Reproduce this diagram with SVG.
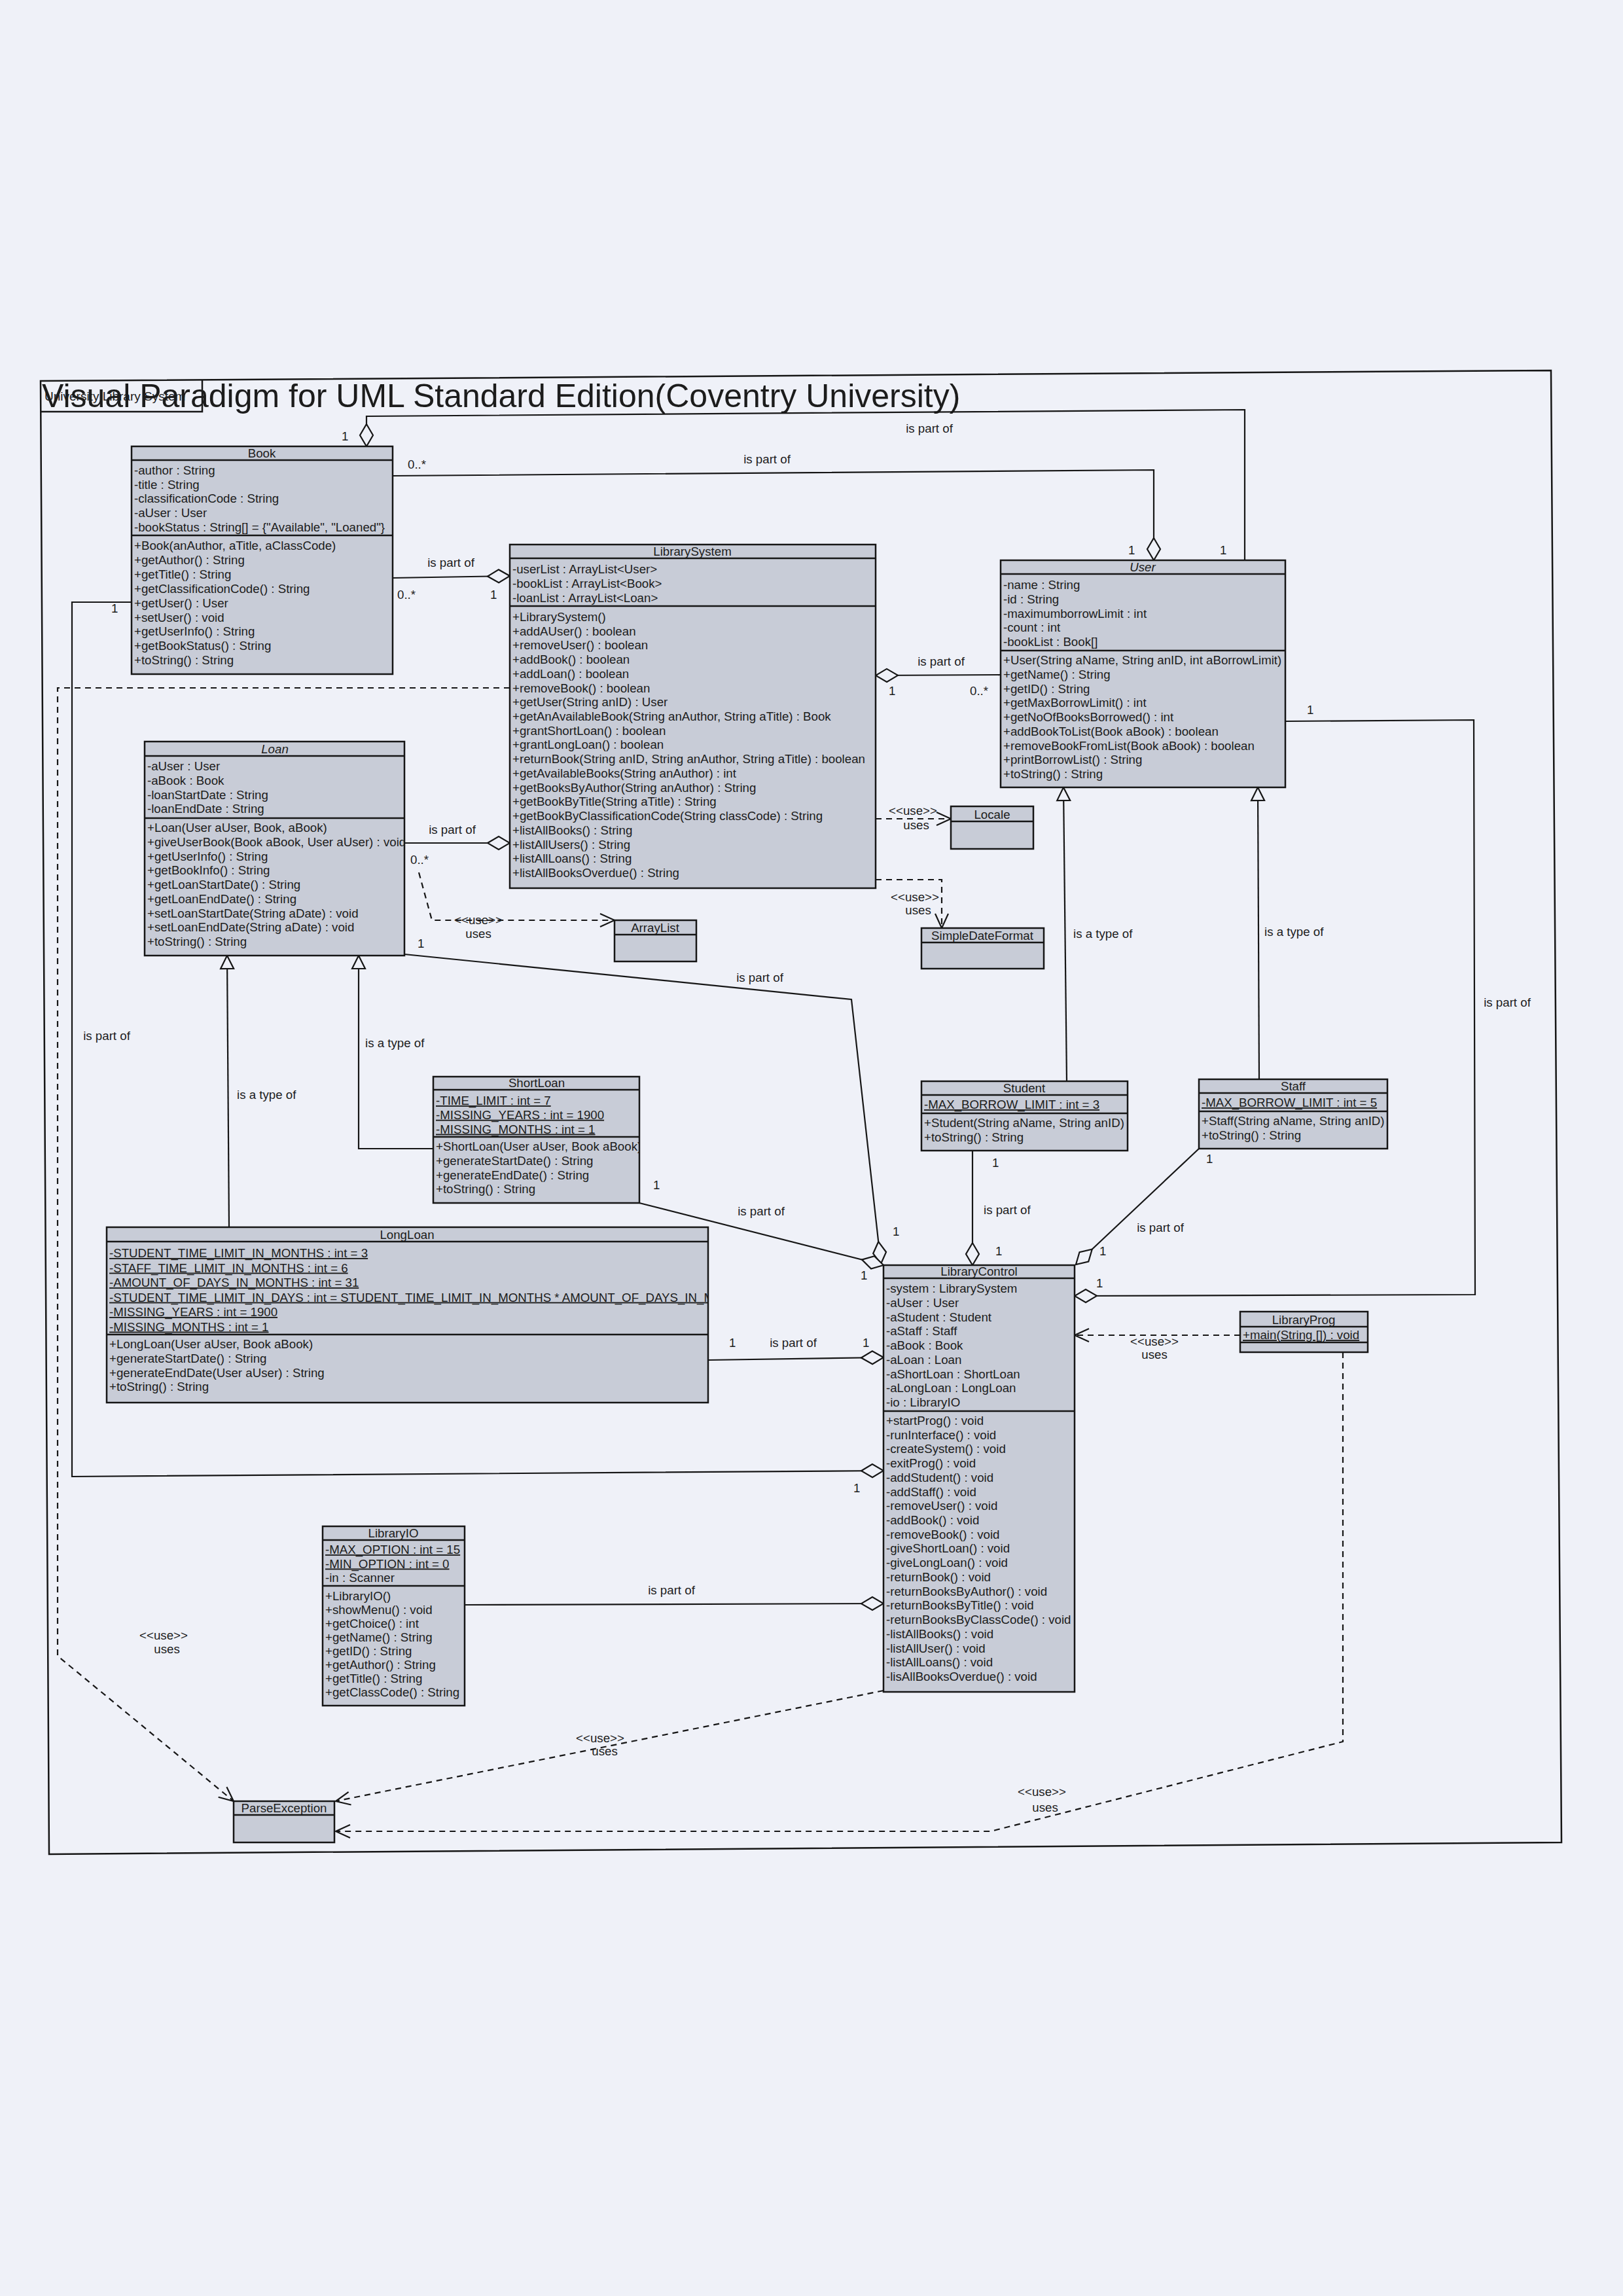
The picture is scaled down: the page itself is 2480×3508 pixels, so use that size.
<svg xmlns="http://www.w3.org/2000/svg" width="2480" height="3508" viewBox="0 0 2480 3508">
<defs>
<style>
.bg{fill:#eff1f8}
.box{fill:#c8ccd7;stroke:#161616;stroke-width:2.5}
.sep{stroke:#161616;stroke-width:2.5}
text{font-family:"Liberation Sans",Arial,sans-serif;font-size:18.7px;fill:#1c1c1c}
.c{text-anchor:middle}
.u{text-decoration:underline}
.i{font-style:italic}
.ln{fill:none;stroke:#161616;stroke-width:2.2}
.dep{fill:none;stroke:#161616;stroke-width:2.2;stroke-dasharray:9 7}
.frame{fill:none;stroke:#161616;stroke-width:2.5}
</style>
<marker id="dia" markerUnits="userSpaceOnUse" markerWidth="38" markerHeight="24" viewBox="-2 -2 38 24" refX="34" refY="10" orient="auto"><path d="M0,10 L17,0 L34,10 L17,20 Z" fill="#eff1f8" stroke="#161616" stroke-width="2.2"/></marker>
<marker id="tri" markerUnits="userSpaceOnUse" markerWidth="24" markerHeight="24" viewBox="-2 -2 24 24" refX="20" refY="10" orient="auto"><path d="M0,0 L20,10 L0,20 Z" fill="#eff1f8" stroke="#161616" stroke-width="2.2"/></marker>
<marker id="arr" markerUnits="userSpaceOnUse" markerWidth="26" markerHeight="24" viewBox="-2 -2 26 24" refX="22" refY="10" orient="auto"><path d="M0,0 L22,10 L0,20" fill="none" stroke="#161616" stroke-width="2.2"/></marker>
<clipPath id="clipLoan"><rect x="221" y="1133" width="397" height="327"/></clipPath>
<clipPath id="clipLong"><rect x="163" y="1875" width="919" height="268"/></clipPath>
<clipPath id="clipShort"><rect x="662" y="1645" width="315" height="193"/></clipPath>
</defs>
<rect class="bg" x="0" y="0" width="2480" height="3508"/>

<g id="frame">
<polygon class="frame" points="62,582 2370,566 2386,2815 75,2833"/>
<polyline class="frame" points="62,629 309,629 309,581"/>
<text x="68" y="612" style="font-size:19px">University Library System</text>
<text x="64" y="622" style="font-size:50px">Visual Paradigm for UML Standard Edition(Coventry University)</text>
</g>

<g id="connectors">
<path class="ln" marker-end="url(#dia)" d="M1902,856 V626 L560,636 V682"/>
<path class="ln" marker-end="url(#dia)" d="M600,727 L1763,718 V856"/>
<path class="ln" marker-end="url(#dia)" d="M600,883 L779,880"/>
<path class="ln" marker-end="url(#dia)" d="M1529,1031 L1338,1032"/>
<path class="ln" marker-end="url(#dia)" d="M618,1288 L779,1288"/>
<path class="ln" marker-end="url(#dia)" d="M618,1458 L1301,1527 L1346,1931"/>
<path class="ln" marker-end="url(#dia)" d="M977,1838 L1350,1933"/>
<path class="ln" marker-end="url(#dia)" d="M1082,2078 L1350,2074"/>
<path class="ln" marker-end="url(#dia)" d="M1486,1758 V1933"/>
<path class="ln" marker-end="url(#dia)" d="M1832,1755 L1644,1932"/>
<path class="ln" marker-end="url(#dia)" d="M1964,1102 L2252,1100 L2254,1978 L1642,1980"/>
<path class="ln" marker-end="url(#dia)" d="M201,920 H110 V2256 L1350,2247"/>
<path class="ln" marker-end="url(#dia)" d="M710,2452 L1350,2450"/>
<path class="ln" marker-end="url(#tri)" d="M1630,1652 L1625,1203"/>
<path class="ln" marker-end="url(#tri)" d="M1924,1649 L1922,1203"/>
<path class="ln" marker-end="url(#tri)" d="M662,1755 H548 V1460"/>
<path class="ln" marker-end="url(#tri)" d="M350,1875 L347,1460"/>
<path class="dep" marker-end="url(#arr)" d="M1338,1251 H1453"/>
<path class="dep" marker-end="url(#arr)" d="M1338,1344 H1439 V1418"/>
<path class="dep" marker-end="url(#arr)" d="M640,1333 L660,1406 H939"/>
<path class="dep" marker-end="url(#arr)" d="M779,1051 H88 V2530 L357,2752"/>
<path class="dep" marker-end="url(#arr)" d="M1350,2583 L513,2752"/>
<path class="dep" marker-end="url(#arr)" d="M1895,2040 H1642"/>
<path class="dep" marker-end="url(#arr)" d="M2052,2066 V2661 L1514,2798 H513"/>
<text class="c" x="1420" y="661">is part of</text>
<text x="522" y="673">1</text>
<text x="1864" y="847">1</text>
<text x="623" y="716">0..*</text>
<text class="c" x="1172" y="708">is part of</text>
<text x="1724" y="847">1</text>
<text class="c" x="689" y="866">is part of</text>
<text x="607" y="915">0..*</text>
<text x="749" y="915">1</text>
<text class="c" x="1438" y="1017">is part of</text>
<text x="1358" y="1062">1</text>
<text x="1482" y="1062">0..*</text>
<text class="c" x="691" y="1274">is part of</text>
<text x="627" y="1320">0..*</text>
<text x="638" y="1448">1</text>
<text class="c" x="1161" y="1500">is part of</text>
<text x="1364" y="1888">1</text>
<text x="998" y="1817">1</text>
<text class="c" x="1163" y="1857">is part of</text>
<text x="1315" y="1955">1</text>
<text x="1114" y="2058">1</text>
<text class="c" x="1212" y="2058">is part of</text>
<text x="1318" y="2058">1</text>
<text x="1516" y="1783">1</text>
<text x="1503" y="1855">is part of</text>
<text x="1521" y="1918">1</text>
<text x="1843" y="1777">1</text>
<text class="c" x="1773" y="1882">is part of</text>
<text x="1680" y="1918">1</text>
<text x="1997" y="1091">1</text>
<text class="c" x="2303" y="1538">is part of</text>
<text x="1675" y="1967">1</text>
<text x="170" y="936">1</text>
<text class="c" x="163" y="1589">is part of</text>
<text x="1304" y="2280">1</text>
<text class="c" x="1026" y="2436">is part of</text>
<text x="1640" y="1433">is a type of</text>
<text x="1932" y="1430">is a type of</text>
<text x="558" y="1600">is a type of</text>
<text x="362" y="1679">is a type of</text>
<text class="c" x="1395" y="1245">&lt;&lt;use&gt;&gt;</text>
<text class="c" x="1400" y="1267">uses</text>
<text class="c" x="1398" y="1377">&lt;&lt;use&gt;&gt;</text>
<text class="c" x="1403" y="1397">uses</text>
<text class="c" x="731" y="1412">&lt;&lt;use&gt;&gt;</text>
<text class="c" x="731" y="1433">uses</text>
<text class="c" x="250" y="2505">&lt;&lt;use&gt;&gt;</text>
<text class="c" x="255" y="2526">uses</text>
<text class="c" x="917" y="2662">&lt;&lt;use&gt;&gt;</text>
<text class="c" x="924" y="2682">uses</text>
<text class="c" x="1764" y="2056">&lt;&lt;use&gt;&gt;</text>
<text class="c" x="1764" y="2076">uses</text>
<text class="c" x="1592" y="2744">&lt;&lt;use&gt;&gt;</text>
<text class="c" x="1597" y="2768">uses</text>
</g>

<g id="Book">
<rect class="box" x="201" y="682" width="399" height="348"/>
<line class="sep" x1="201" y1="703" x2="600" y2="703"/>
<line class="sep" x1="201" y1="818" x2="600" y2="818"/>
<text class="c" x="400" y="699">Book</text>
<text x="205"><tspan x="205" y="725">-author : String</tspan><tspan x="205" dy="21.7">-title : String</tspan><tspan x="205" dy="21.7">-classificationCode : String</tspan><tspan x="205" dy="21.7">-aUser : User</tspan><tspan x="205" dy="21.7">-bookStatus : String[] = {"Available", "Loaned"}</tspan></text>
<text x="205"><tspan x="205" y="840">+Book(anAuthor, aTitle, aClassCode)</tspan><tspan x="205" dy="21.9">+getAuthor() : String</tspan><tspan x="205" dy="21.9">+getTitle() : String</tspan><tspan x="205" dy="21.9">+getClassificationCode() : String</tspan><tspan x="205" dy="21.9">+getUser() : User</tspan><tspan x="205" dy="21.9">+setUser() : void</tspan><tspan x="205" dy="21.9">+getUserInfo() : String</tspan><tspan x="205" dy="21.9">+getBookStatus() : String</tspan><tspan x="205" dy="21.9">+toString() : String</tspan></text>
</g>

<g id="LibrarySystem">
<rect class="box" x="779" y="832" width="559" height="525"/>
<line class="sep" x1="779" y1="853" x2="1338" y2="853"/>
<line class="sep" x1="779" y1="926" x2="1338" y2="926"/>
<text class="c" x="1058" y="849">LibrarySystem</text>
<text x="783"><tspan x="783" y="876">-userList : ArrayList&lt;User&gt;</tspan><tspan x="783" dy="21.75">-bookList : ArrayList&lt;Book&gt;</tspan><tspan x="783" dy="21.75">-loanList : ArrayList&lt;Loan&gt;</tspan></text>
<text x="783"><tspan x="783" y="949">+LibrarySystem()</tspan><tspan x="783" dy="21.72">+addAUser() : boolean</tspan><tspan x="783" dy="21.72">+removeUser() : boolean</tspan><tspan x="783" dy="21.72">+addBook() : boolean</tspan><tspan x="783" dy="21.72">+addLoan() : boolean</tspan><tspan x="783" dy="21.72">+removeBook() : boolean</tspan><tspan x="783" dy="21.72">+getUser(String anID) : User</tspan><tspan x="783" dy="21.72">+getAnAvailableBook(String anAuthor, String aTitle) : Book</tspan><tspan x="783" dy="21.72">+grantShortLoan() : boolean</tspan><tspan x="783" dy="21.72">+grantLongLoan() : boolean</tspan><tspan x="783" dy="21.72">+returnBook(String anID, String anAuthor, String aTitle) : boolean</tspan><tspan x="783" dy="21.72">+getAvailableBooks(String anAuthor) : int</tspan><tspan x="783" dy="21.72">+getBooksByAuthor(String anAuthor) : String</tspan><tspan x="783" dy="21.72">+getBookByTitle(String aTitle) : String</tspan><tspan x="783" dy="21.72">+getBookByClassificationCode(String classCode) : String</tspan><tspan x="783" dy="21.72">+listAllBooks() : String</tspan><tspan x="783" dy="21.72">+listAllUsers() : String</tspan><tspan x="783" dy="21.72">+listAllLoans() : String</tspan><tspan x="783" dy="21.72">+listAllBooksOverdue() : String</tspan></text>
</g>

<g id="User">
<rect class="box" x="1529" y="856" width="435" height="347"/>
<line class="sep" x1="1529" y1="877" x2="1964" y2="877"/>
<line class="sep" x1="1529" y1="994" x2="1964" y2="994"/>
<text class="c i" x="1746" y="873">User</text>
<text x="1533"><tspan x="1533" y="900">-name : String</tspan><tspan x="1533" dy="21.75">-id : String</tspan><tspan x="1533" dy="21.75">-maximumborrowLimit : int</tspan><tspan x="1533" dy="21.75">-count : int</tspan><tspan x="1533" dy="21.75">-bookList : Book[]</tspan></text>
<text x="1533"><tspan x="1533" y="1015">+User(String aName, String anID, int aBorrowLimit)</tspan><tspan x="1533" dy="21.75">+getName() : String</tspan><tspan x="1533" dy="21.75">+getID() : String</tspan><tspan x="1533" dy="21.75">+getMaxBorrowLimit() : int</tspan><tspan x="1533" dy="21.75">+getNoOfBooksBorrowed() : int</tspan><tspan x="1533" dy="21.75">+addBookToList(Book aBook) : boolean</tspan><tspan x="1533" dy="21.75">+removeBookFromList(Book aBook) : boolean</tspan><tspan x="1533" dy="21.75">+printBorrowList() : String</tspan><tspan x="1533" dy="21.75">+toString() : String</tspan></text>
</g>

<g id="Loan">
<rect class="box" x="221" y="1133" width="397" height="327"/>
<line class="sep" x1="221" y1="1155" x2="618" y2="1155"/>
<line class="sep" x1="221" y1="1250" x2="618" y2="1250"/>
<text class="c i" x="420" y="1151">Loan</text>
<g clip-path="url(#clipLoan)">
<text x="225"><tspan x="225" y="1177">-aUser : User</tspan><tspan x="225" dy="21.75">-aBook : Book</tspan><tspan x="225" dy="21.75">-loanStartDate : String</tspan><tspan x="225" dy="21.75">-loanEndDate : String</tspan></text>
<text x="225"><tspan x="225" y="1271">+Loan(User aUser, Book, aBook)</tspan><tspan x="225" dy="21.75">+giveUserBook(Book aBook, User aUser) : void</tspan><tspan x="225" dy="21.75">+getUserInfo() : String</tspan><tspan x="225" dy="21.75">+getBookInfo() : String</tspan><tspan x="225" dy="21.75">+getLoanStartDate() : String</tspan><tspan x="225" dy="21.75">+getLoanEndDate() : String</tspan><tspan x="225" dy="21.75">+setLoanStartDate(String aDate) : void</tspan><tspan x="225" dy="21.75">+setLoanEndDate(String aDate) : void</tspan><tspan x="225" dy="21.75">+toString() : String</tspan></text>
</g>
</g>

<g id="ShortLoan">
<rect class="box" x="662" y="1645" width="315" height="193"/>
<line class="sep" x1="662" y1="1665" x2="977" y2="1665"/>
<line class="sep" x1="662" y1="1737" x2="977" y2="1737"/>
<text class="c" x="820" y="1661">ShortLoan</text>
<g clip-path="url(#clipShort)">
<text x="666" class="u"><tspan x="666" y="1688">-TIME_LIMIT : int = 7</tspan><tspan x="666" dy="21.75">-MISSING_YEARS : int = 1900</tspan><tspan x="666" dy="21.75">-MISSING_MONTHS : int = 1</tspan></text>
<text x="666"><tspan x="666" y="1758">+ShortLoan(User aUser, Book aBook)</tspan><tspan x="666" dy="21.75">+generateStartDate() : String</tspan><tspan x="666" dy="21.75">+generateEndDate() : String</tspan><tspan x="666" dy="21.75">+toString() : String</tspan></text>
</g>
</g>

<g id="LongLoan">
<rect class="box" x="163" y="1875" width="919" height="268"/>
<line class="sep" x1="163" y1="1897" x2="1082" y2="1897"/>
<line class="sep" x1="163" y1="2039" x2="1082" y2="2039"/>
<text class="c" x="622" y="1893">LongLoan</text>
<g clip-path="url(#clipLong)">
<text x="167" class="u"><tspan x="167" y="1921">-STUDENT_TIME_LIMIT_IN_MONTHS : int = 3</tspan><tspan x="167" dy="22.5">-STAFF_TIME_LIMIT_IN_MONTHS : int = 6</tspan><tspan x="167" dy="22.5">-AMOUNT_OF_DAYS_IN_MONTHS : int = 31</tspan><tspan x="167" dy="22.5">-STUDENT_TIME_LIMIT_IN_DAYS : int = STUDENT_TIME_LIMIT_IN_MONTHS * AMOUNT_OF_DAYS_IN_MONTHS</tspan><tspan x="167" dy="22.5">-MISSING_YEARS : int = 1900</tspan><tspan x="167" dy="22.5">-MISSING_MONTHS : int = 1</tspan></text>
<text x="167"><tspan x="167" y="2060">+LongLoan(User aUser, Book aBook)</tspan><tspan x="167" dy="21.75">+generateStartDate() : String</tspan><tspan x="167" dy="21.75">+generateEndDate(User aUser) : String</tspan><tspan x="167" dy="21.75">+toString() : String</tspan></text>
</g>
</g>

<g id="Student">
<rect class="box" x="1408" y="1652" width="315" height="106"/>
<line class="sep" x1="1408" y1="1673" x2="1723" y2="1673"/>
<line class="sep" x1="1408" y1="1701" x2="1723" y2="1701"/>
<text class="c" x="1565" y="1669">Student</text>
<text x="1412" y="1694" class="u">-MAX_BORROW_LIMIT : int = 3</text>
<text x="1412"><tspan x="1412" y="1722">+Student(String aName, String anID)</tspan><tspan x="1412" dy="21.75">+toString() : String</tspan></text>
</g>

<g id="Staff">
<rect class="box" x="1832" y="1649" width="288" height="106"/>
<line class="sep" x1="1832" y1="1670" x2="2120" y2="1670"/>
<line class="sep" x1="1832" y1="1698" x2="2120" y2="1698"/>
<text class="c" x="1976" y="1666">Staff</text>
<text x="1836" y="1691" class="u">-MAX_BORROW_LIMIT : int = 5</text>
<text x="1836"><tspan x="1836" y="1719">+Staff(String aName, String anID)</tspan><tspan x="1836" dy="21.75">+toString() : String</tspan></text>
</g>

<g id="LibraryControl">
<rect class="box" x="1350" y="1933" width="292" height="652"/>
<line class="sep" x1="1350" y1="1953" x2="1642" y2="1953"/>
<line class="sep" x1="1350" y1="2156" x2="1642" y2="2156"/>
<text class="c" x="1496" y="1949">LibraryControl</text>
<text x="1354"><tspan x="1354" y="1975">-system : LibrarySystem</tspan><tspan x="1354" dy="21.75">-aUser : User</tspan><tspan x="1354" dy="21.75">-aStudent : Student</tspan><tspan x="1354" dy="21.75">-aStaff : Staff</tspan><tspan x="1354" dy="21.75">-aBook : Book</tspan><tspan x="1354" dy="21.75">-aLoan : Loan</tspan><tspan x="1354" dy="21.75">-aShortLoan : ShortLoan</tspan><tspan x="1354" dy="21.75">-aLongLoan : LongLoan</tspan><tspan x="1354" dy="21.75">-io : LibraryIO</tspan></text>
<text x="1354"><tspan x="1354" y="2177">+startProg() : void</tspan><tspan x="1354" dy="21.72">-runInterface() : void</tspan><tspan x="1354" dy="21.72">-createSystem() : void</tspan><tspan x="1354" dy="21.72">-exitProg() : void</tspan><tspan x="1354" dy="21.72">-addStudent() : void</tspan><tspan x="1354" dy="21.72">-addStaff() : void</tspan><tspan x="1354" dy="21.72">-removeUser() : void</tspan><tspan x="1354" dy="21.72">-addBook() : void</tspan><tspan x="1354" dy="21.72">-removeBook() : void</tspan><tspan x="1354" dy="21.72">-giveShortLoan() : void</tspan><tspan x="1354" dy="21.72">-giveLongLoan() : void</tspan><tspan x="1354" dy="21.72">-returnBook() : void</tspan><tspan x="1354" dy="21.72">-returnBooksByAuthor() : void</tspan><tspan x="1354" dy="21.72">-returnBooksByTitle() : void</tspan><tspan x="1354" dy="21.72">-returnBooksByClassCode() : void</tspan><tspan x="1354" dy="21.72">-listAllBooks() : void</tspan><tspan x="1354" dy="21.72">-listAllUser() : void</tspan><tspan x="1354" dy="21.72">-listAllLoans() : void</tspan><tspan x="1354" dy="21.72">-lisAllBooksOverdue() : void</tspan></text>
</g>

<g id="LibraryIO">
<rect class="box" x="493" y="2332" width="217" height="274"/>
<line class="sep" x1="493" y1="2353" x2="710" y2="2353"/>
<line class="sep" x1="493" y1="2423" x2="710" y2="2423"/>
<text class="c" x="601" y="2349">LibraryIO</text>
<text x="497"><tspan x="497" y="2374" class="u">-MAX_OPTION : int = 15</tspan><tspan x="497" dy="21.5" class="u">-MIN_OPTION : int = 0</tspan><tspan x="497" dy="21.5">-in : Scanner</tspan></text>
<text x="497"><tspan x="497" y="2445">+LibraryIO()</tspan><tspan x="497" dy="21">+showMenu() : void</tspan><tspan x="497" dy="21">+getChoice() : int</tspan><tspan x="497" dy="21">+getName() : String</tspan><tspan x="497" dy="21">+getID() : String</tspan><tspan x="497" dy="21">+getAuthor() : String</tspan><tspan x="497" dy="21">+getTitle() : String</tspan><tspan x="497" dy="21">+getClassCode() : String</tspan></text>
</g>

<g id="LibraryProg">
<rect class="box" x="1895" y="2004" width="195" height="62"/>
<line class="sep" x1="1895" y1="2027" x2="2090" y2="2027"/>
<line class="sep" x1="1895" y1="2051" x2="2090" y2="2051"/>
<text class="c" x="1992" y="2023">LibraryProg</text>
<text x="1899" y="2046" class="u">+main(String []) : void</text>
</g>

<g id="Locale">
<rect class="box" x="1453" y="1232" width="126" height="65"/>
<line class="sep" x1="1453" y1="1255" x2="1579" y2="1255"/>
<text class="c" x="1516" y="1251">Locale</text>
</g>

<g id="SimpleDateFormat">
<rect class="box" x="1408" y="1418" width="187" height="62"/>
<line class="sep" x1="1408" y1="1440" x2="1595" y2="1440"/>
<text class="c" x="1501" y="1436">SimpleDateFormat</text>
</g>

<g id="ArrayList">
<rect class="box" x="939" y="1406" width="125" height="63"/>
<line class="sep" x1="939" y1="1428" x2="1064" y2="1428"/>
<text class="c" x="1001" y="1424">ArrayList</text>
</g>

<g id="ParseException">
<rect class="box" x="357" y="2752" width="154" height="63"/>
<line class="sep" x1="357" y1="2773" x2="511" y2="2773"/>
<text class="c" x="434" y="2769">ParseException</text>
</g>
</svg>
